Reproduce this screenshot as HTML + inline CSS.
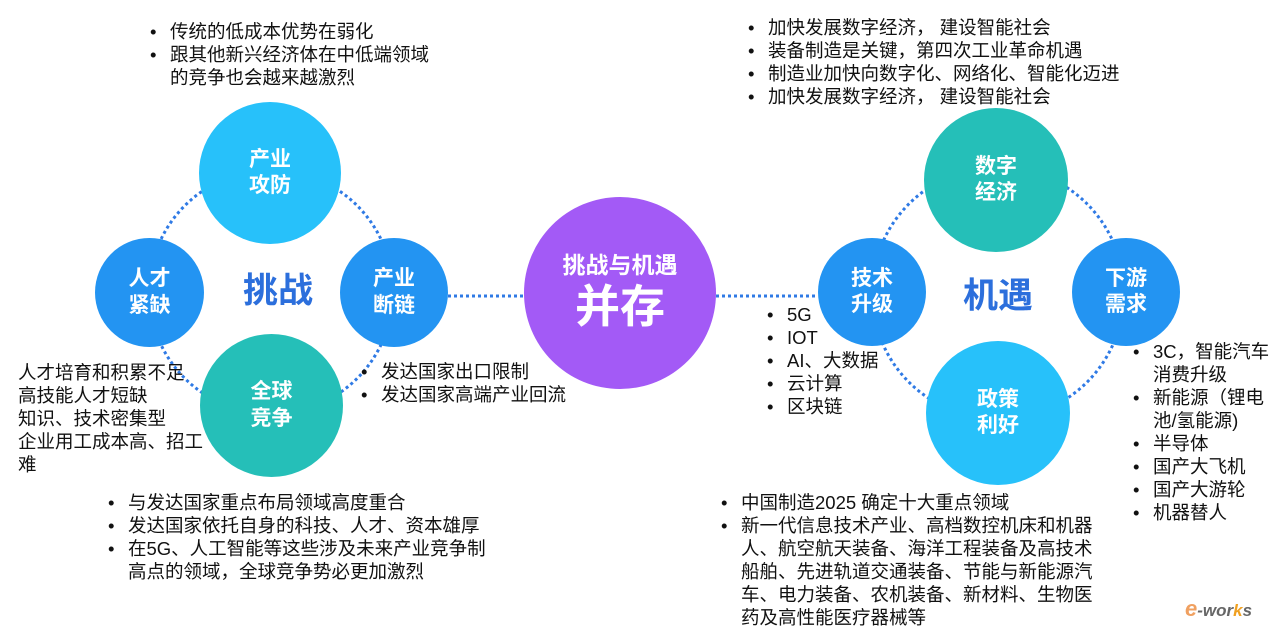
<!DOCTYPE html>
<html><head><meta charset="utf-8"><style>
body{margin:0;width:1277px;height:629px;background:#fff;position:relative;overflow:hidden;font-family:"Liberation Sans","Noto Sans CJK SC",sans-serif;color:#111}
.c{position:absolute;border-radius:50%;color:#fff;font-weight:bold;display:flex;align-items:center;justify-content:center;text-align:center;line-height:1.25;font-size:21px}
.t{position:absolute;font-size:18.5px;line-height:23px;white-space:nowrap}
.t p{margin:0;position:relative}
.t p.b::before{content:"•";position:absolute;left:-20px}
.big{position:absolute;font-weight:bold;color:#2c6fdc;font-size:35px;transform:translate(-50%,-50%)}
</style></head><body>
<svg width="1277" height="629" style="position:absolute;left:0;top:0">
<g fill="none" stroke="#2f7ae5" stroke-width="3" stroke-dasharray="3 3">
<circle cx="271" cy="292" r="122"/>
<circle cx="998" cy="293" r="126"/>
<line x1="448" y1="296" x2="524" y2="296"/>
<line x1="716" y1="296" x2="818" y2="296"/>
</g></svg>
<div class="c" style="left:199px;top:102px;width:142px;height:142px;background:#27c1fa">产业<br>攻防</div>
<div class="c" style="left:95px;top:238px;width:109px;height:109px;background:#2394f2">人才<br>紧缺</div>
<div class="c" style="left:340px;top:238px;width:108px;height:109px;background:#2394f2">产业<br>断链</div>
<div class="c" style="left:200px;top:334px;width:143px;height:143px;background:#25bfb8">全球<br>竞争</div>
<div class="big" style="left:278px;top:288px">挑战</div>
<div class="c" style="left:524px;top:197px;width:192px;height:192px;background:#a35af6;flex-direction:column;line-height:1.2"><span style="font-size:23px">挑战与机遇</span><span style="font-size:45px">并存</span></div>
<div class="c" style="left:924px;top:108px;width:144px;height:144px;background:#25bfb8">数字<br>经济</div>
<div class="c" style="left:818px;top:238px;width:108px;height:108px;background:#2394f2">技术<br>升级</div>
<div class="c" style="left:1072px;top:238px;width:108px;height:108px;background:#2394f2">下游<br>需求</div>
<div class="c" style="left:926px;top:341px;width:144px;height:144px;background:#27c1fa">政策<br>利好</div>
<div class="big" style="left:998px;top:293px">机遇</div>

<div class="t" style="left:170px;top:20px"><p class="b">传统的低成本优势在弱化</p><p class="b">跟其他新兴经济体在中低端领域</p><p>的竞争也会越来越激烈</p></div>
<div class="t" style="left:18px;top:361px"><p>人才培育和积累不足</p><p>高技能人才短缺</p><p>知识、技术密集型</p><p>企业用工成本高、招工</p><p>难</p></div>
<div class="t" style="left:381px;top:360px"><p class="b">发达国家出口限制</p><p class="b">发达国家高端产业回流</p></div>
<div class="t" style="left:128px;top:491px"><p class="b">与发达国家重点布局领域高度重合</p><p class="b">发达国家依托自身的科技、人才、资本雄厚</p><p class="b">在5G、人工智能等这些涉及未来产业竞争制</p><p>高点的领域，全球竞争势必更加激烈</p></div>
<div class="t" style="left:768px;top:16px"><p class="b">加快发展数字经济，&nbsp;建设智能社会</p><p class="b">装备制造是关键，第四次工业革命机遇</p><p class="b">制造业加快向数字化、网络化、智能化迈进</p><p class="b">加快发展数字经济，&nbsp;建设智能社会</p></div>
<div class="t" style="left:787px;top:303px"><p class="b">5G</p><p class="b">IOT</p><p class="b">AI、大数据</p><p class="b">云计算</p><p class="b">区块链</p></div>
<div class="t" style="left:1153px;top:340px"><p class="b">3C，智能汽车</p><p>消费升级</p><p class="b">新能源（锂电</p><p>池/氢能源)</p><p class="b">半导体</p><p class="b">国产大飞机</p><p class="b">国产大游轮</p><p class="b">机器替人</p></div>
<div class="t" style="left:741px;top:491px"><p class="b">中国制造2025 确定十大重点领域</p><p class="b">新一代信息技术产业、高档数控机床和机器</p><p>人、航空航天装备、海洋工程装备及高技术</p><p>船舶、先进轨道交通装备、节能与新能源汽</p><p>车、电力装备、农机装备、新材料、生物医</p><p>药及高性能医疗器械等</p></div>
<div style="position:absolute;left:1185px;top:596px;font:italic bold 17px 'Liberation Sans',sans-serif;color:#666"><span style="color:#f0a060;font-size:22px">e</span>-wor<span style="color:#f0a020">k</span>s</div>
</body></html>
